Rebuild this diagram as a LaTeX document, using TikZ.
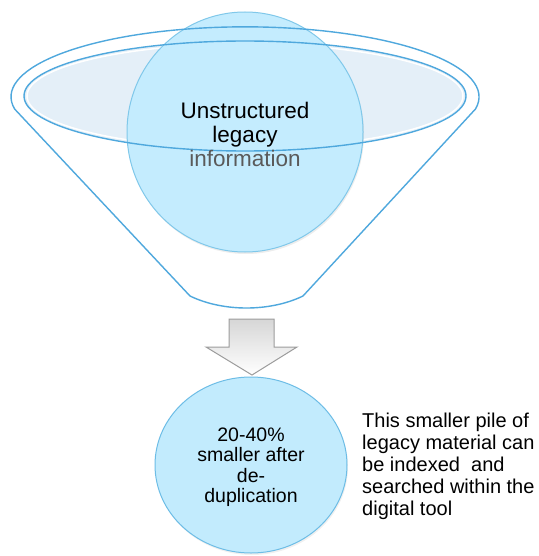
\documentclass[tikz,border=0pt]{standalone}
\usepackage{fontspec}
\setmainfont{Liberation Sans}
\usetikzlibrary{shapes.geometric}
\definecolor{funnelblue}{HTML}{4FA8DD}
\definecolor{ellfill}{HTML}{E4EFF8}
\definecolor{circfill}{HTML}{C4ECFE}
\definecolor{circline}{HTML}{80C8EA}
\definecolor{botline}{HTML}{6DBDE6}
\definecolor{botfill}{HTML}{C2EBFD}
\definecolor{arrowline}{HTML}{9C9C9C}
\definecolor{infogray}{HTML}{5A5A5A}
\tikzset{
  funnelline/.style={draw=funnelblue, line width=1.4pt},
  bubble/.style={ellipse, inner sep=0pt, line width=1pt},
  bigtext/.style={font=\fontsize{22.5}{24}\selectfont, align=center},
  midtext/.style={font=\fontsize{19.5}{20.5}\selectfont, align=center},
  notetext/.style={font=\fontsize{20}{22}\selectfont, align=left},
  blockarrow/.style={draw=arrowline, line width=1pt, top color=black!16, bottom color=white},
}
\begin{document}
\begin{tikzpicture}[x=1pt,y=-1pt]
\useasboundingbox (0,0) rectangle (538,556);
\fill[white] (0,0) rectangle (538,556);

% inner ellipse fill with highlight
\fill[ellfill] (245,96) ellipse (221 and 55);
\draw[white, line width=1.5pt] (245,96) ellipse (218 and 52);

% top circle with soft shadow
\fill[black, opacity=0.07] (246,134) ellipse (118 and 120);
\node[bubble, minimum width=236pt, minimum height=240pt, fill=circfill, draw=circline] (src) at (245,132) {};

% funnel outline
\coordinate (fl) at (190,296);
\coordinate (fr) at (303,296);
\draw[funnelline] (14.6,109) arc (170:370:234 and 70) -- (fr) .. controls (270,312) and (223,312) .. (fl) -- cycle;
\draw[funnelline] (245,96) ellipse (221 and 55);

% top text
\node[bigtext] (srctext) at (245,134) {Unstructured\\legacy\\{\color{infogray}information}};

% block arrow
\draw[blockarrow] (229,319) -- (274,319) -- (274,347) -- (297,347) -- (252,375) -- (206,347) -- (229,347) -- cycle;

% bottom circle
\fill[black, opacity=0.06] (252,467) ellipse (96 and 88);
\node[bubble, minimum width=192pt, minimum height=176pt, fill=botfill, draw=botline] (res) at (251,465) {};
\node[midtext] (restext) at (251,467) {20-40\%\\smaller after\\de-\\duplication};

% note
\node[notetext, anchor=west, inner sep=0pt] (note) at (362,466) {This smaller pile of\\legacy material can\\be indexed\ \ and\\searched within the\\digital tool};
\end{tikzpicture}
\end{document}
